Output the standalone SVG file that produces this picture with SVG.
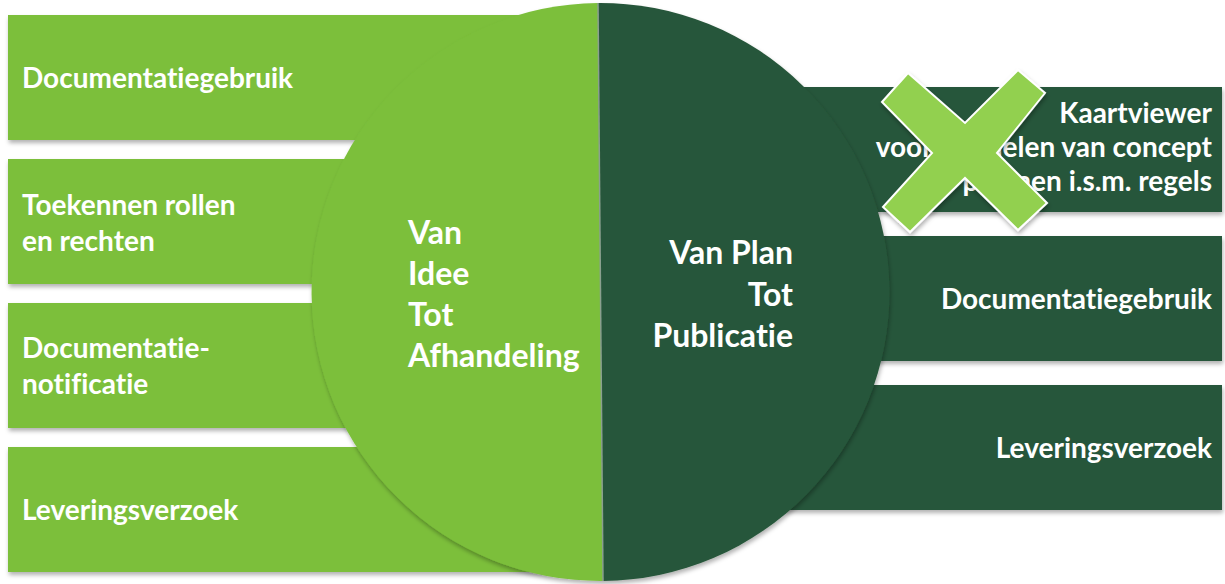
<svg xmlns="http://www.w3.org/2000/svg" width="1225" height="584" viewBox="0 0 1225 584">
<style>
.lg{fill:#7BBF3B}
.dg{fill:#27563A}
.t{font-family:Lato,"Open Sans","Liberation Sans",sans-serif;font-weight:700;fill:#fff;font-size:28px;font-variant-ligatures:none}
.c{font-size:32px}
.e{text-anchor:end}
</style>
<defs>
<filter id="sh" x="-5%" y="-10%" width="110%" height="125%">
<feDropShadow dx="1" dy="3" stdDeviation="2" flood-color="#000" flood-opacity="0.3"/>
</filter>
</defs>
<g id="right-nodes">
<g id="r1"><rect class="dg" x="700" y="87" width="522" height="125" filter="url(#sh)"/>
<text class="t e" x="1212" y="123">Kaartviewer</text>
<text class="t e" x="1212" y="157">voor het delen van concept</text>
<text class="t e" x="1212" y="191">plannen i.s.m. regels</text></g>
<g id="r2"><rect class="dg" x="700" y="236" width="522" height="125" filter="url(#sh)"/>
<text class="t e" x="1212" y="309">Documentatiegebruik</text></g>
<g id="r3"><rect class="dg" x="700" y="385" width="522" height="125" filter="url(#sh)"/>
<text class="t e" x="1212" y="458">Leveringsverzoek</text></g>
</g>
<g id="left-nodes">
<g id="l1"><rect class="lg" x="8" y="15" width="600" height="125" filter="url(#sh)"/>
<text class="t" x="22" y="88">Documentatiegebruik</text></g>
<g id="l2"><rect class="lg" x="8" y="159" width="600" height="125" filter="url(#sh)"/>
<text class="t" x="22" y="215">Toekennen rollen</text>
<text class="t" x="22" y="251">en rechten</text></g>
<g id="l3"><rect class="lg" x="8" y="303" width="600" height="125" filter="url(#sh)"/>
<text class="t" x="22" y="358">Documentatie-</text>
<text class="t" x="22" y="394">notificatie</text></g>
<g id="l4"><rect class="lg" x="8" y="447" width="600" height="125" filter="url(#sh)"/>
<text class="t" x="22" y="520">Leveringsverzoek</text></g>
</g>
<g id="circle" filter="url(#sh)">
<path class="lg" d="M598 3 A289 289 0 0 0 603 581 Z"/>
<path class="dg" d="M598 3 A289 289 0 0 1 603 581 Z"/>
<line x1="598" y1="3" x2="603" y2="581" stroke="#8aa08f" stroke-width="1.5"/>
</g>
<g id="center-left">
<text class="t c" x="408" y="244">Van</text>
<text class="t c" x="408" y="285">Idee</text>
<text class="t c" x="408" y="326">Tot</text>
<text class="t c" x="408" y="367">Afhandeling</text>
</g>
<g id="center-right">
<text class="t c e" x="793" y="264">Van Plan</text>
<text class="t c e" x="793" y="306">Tot</text>
<text class="t c e" x="793" y="347">Publicatie</text>
</g>
<g id="cross" filter="url(#sh)">
<polygon points="882,102 908,73 965,123 1018,70 1045,93 997,153 1047,203 1018,230 965,178 910,232 883,207 932,153" fill="#92D050" stroke="#fff" stroke-width="2" stroke-linejoin="miter"/>
</g>
<g id="connectors"/>
</svg>
